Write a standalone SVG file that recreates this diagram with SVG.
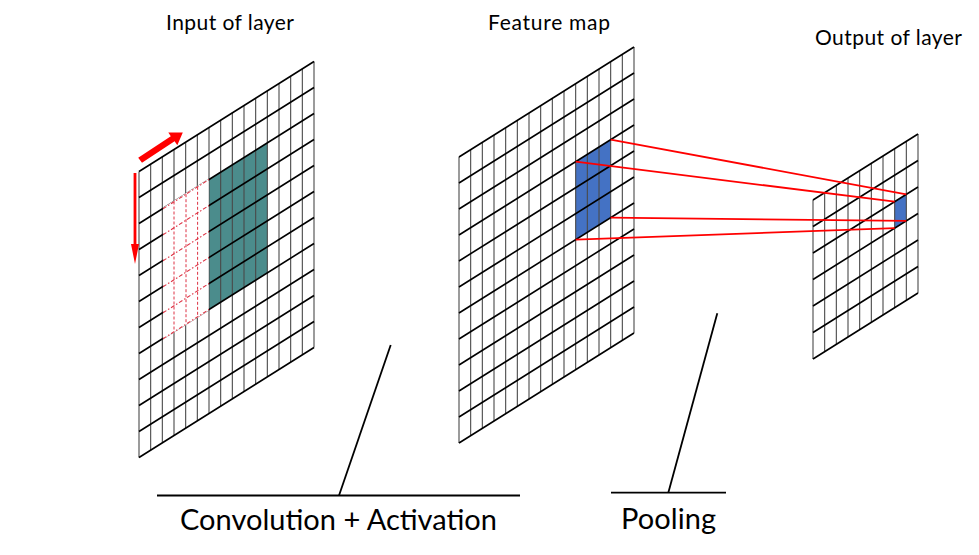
<svg xmlns="http://www.w3.org/2000/svg" xmlns:xlink="http://www.w3.org/1999/xlink" width="979" height="555" viewBox="0 0 979 555">
  <style>
    .gv { fill: none; stroke: #4a4a4a; stroke-width: 1.1; }
    .gh { fill: none; stroke: #000; stroke-width: 1.6; }
    .lbl { font-family: Lato, "Liberation Sans", sans-serif; fill: #000; }
    .top { font-size: 21px; }
    .big { font-size: 29px; }
    .proj { stroke: #ff0000; stroke-width: 1.8; fill: none; }
    .lead { stroke: #000; stroke-width: 1.8; fill: none; }
    .dv { stroke: #dd3344; stroke-width: 1; stroke-dasharray: 3 2; fill: none; }
    .dh { stroke: #dd3344; stroke-width: 1.1; stroke-dasharray: 4 2 1.5 2; fill: none; }
  </style>
  <defs>
    <path id="g15v" d="M0 0v286M11.667 -7.333v286M23.333 -14.667v286M35 -22v286M46.667 -29.333v286M58.333 -36.667v286M70 -44v286M81.667 -51.333v286M93.333 -58.667v286M105 -66v286M116.667 -73.333v286M128.333 -80.667v286M140 -88v286M151.667 -95.333v286M163.333 -102.667v286M175 -110v286"/>
    <path id="g15h" d="M0 0l175 -110M0 26l175 -110M0 52l175 -110M0 78l175 -110M0 104l175 -110M0 130l175 -110M0 156l175 -110M0 182l175 -110M0 208l175 -110M0 234l175 -110M0 260l175 -110M0 286l175 -110"/>
    <path id="g9v" d="M0 0v159M11.667 -7.333v159M23.333 -14.667v159M35 -22v159M46.667 -29.333v159M58.333 -36.667v159M70 -44v159M81.667 -51.333v159M93.333 -58.667v159M105 -66v159"/>
    <path id="g9h" d="M0 0l105 -66M0 26.5l105 -66M0 53l105 -66M0 79.5l105 -66M0 106l105 -66M0 132.5l105 -66M0 159l105 -66"/>
  </defs>
  <rect width="979" height="555" fill="#fff"/>

  <g id="input-layer">
    <polygon points="209,179.5 267.333,142.833 267.333,272.833 209,309.5" fill="#4b8c8c"/>
    <use xlink:href="#g15v" href="#g15v" x="139" y="171.5" class="gv"/>
    <use xlink:href="#g15h" href="#g15h" x="139" y="171.5" class="gh"/>
    <polygon points="163.2,207.5 208.6,178.8 208.6,310.8 163.2,339.5" fill="#fff"/>
    <path class="dv" d="M174 201.5v130M186 194.2v130M197.6 186.8v130"/>
    <path class="dh" d="M163 208.8L209 179.5M163 234.8L209 205.5M163 260.8L209 231.5M163 286.8L209 257.5M163 312.8L209 283.5M163 338.8L209 309.5"/>
    <polygon points="138.2,157.8 170.8,136.3 168.3,132.4 182.8,132.5 177.3,145.3 174.6,141.3 142,162.8" fill="#ff0000"/>
    <polygon points="133.6,173 136.4,173 136.4,244 139,244 135,264 131,244 133.6,244" fill="#ff0000"/>
    <text class="lbl top" x="166" y="29.5" textLength="128">Input of layer</text>
  </g>

  <g id="feature-map">
    <polygon points="575.667,161.667 610.667,139.667 610.667,217.667 575.667,239.667" fill="#4472c4"/>
    <use xlink:href="#g15v" href="#g15v" x="459" y="157" class="gv"/>
    <use xlink:href="#g15h" href="#g15h" x="459" y="157" class="gh"/>
    <text class="lbl top" x="488" y="29.5" textLength="122">Feature map</text>
  </g>

  <g id="output-layer">
    <polygon points="894.667,201.667 906.333,194.333 906.333,220.833 894.667,228.167" fill="#4472c4"/>
    <use xlink:href="#g9v" href="#g9v" x="813" y="200" class="gv"/>
    <use xlink:href="#g9h" href="#g9h" x="813" y="200" class="gh"/>
    <text class="lbl top" x="815" y="45" textLength="147">Output of layer</text>
  </g>

  <g id="connectors">
    <line class="proj" x1="610.667" y1="139.667" x2="906.333" y2="194.333"/>
    <line class="proj" x1="575.667" y1="161.667" x2="894.667" y2="201.667"/>
    <line class="proj" x1="610.667" y1="217.667" x2="906.333" y2="220.833"/>
    <line class="proj" x1="575.667" y1="239.667" x2="894.667" y2="228.167"/>
    <line class="lead" x1="157" y1="495.5" x2="520" y2="495.5"/>
    <line class="lead" x1="339" y1="495.5" x2="390.7" y2="345"/>
    <line class="lead" x1="611" y1="492.7" x2="726" y2="492.7"/>
    <line class="lead" x1="668.3" y1="492.7" x2="717.3" y2="313.3"/>
  </g>

  <g id="label-conv">
    <text class="lbl big" x="180" y="529.5" textLength="317">Convolution + Activation</text>
  </g>
  <g id="label-pool">
    <text class="lbl big" x="621" y="528.5" textLength="95">Pooling</text>
  </g>
</svg>
